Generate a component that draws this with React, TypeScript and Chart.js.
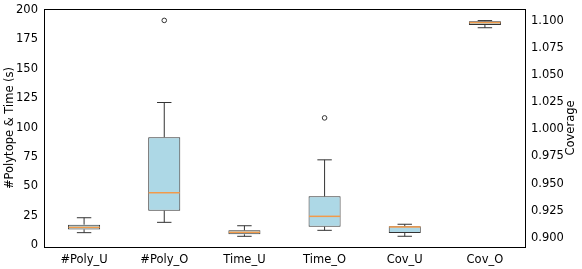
import React, { useEffect, useRef } from "react";
import { Chart, registerables } from "chart.js";

Chart.register(...registerables);

const categories = ["#Poly_U", "#Poly_O", "Time_U", "Time_O", "Cov_U", "Cov_O"];
// which axis each box belongs to: left (counts/time) or right (coverage)
const axisOf = ["y", "y", "y", "y", "y2", "y2"];
const q1 = [13.3, 29.2, 9.1, 15.6, 0.9043, 1.0963];
const q3 = [17.3, 91.8, 12.5, 41.4, 0.9105, 1.0999];
const medians = [15.0, 44.5, 10.8, 24.4, 0.9099, 1.0985];
const whiskerLow = [10.5, 19.3, 7.4, 12.5, 0.9013, 1.0938];
const whiskerHigh = [23.2, 121.3, 16.4, 72.5, 0.9124, 1.1004];
const outliers: number[][] = [[], [191.2], [], [108.2], [], []];

const leftTicks = [0, 25, 50, 75, 100, 125, 150, 175, 200];
const rightTicks = [0.9, 0.925, 0.95, 0.975, 1.0, 1.025, 1.05, 1.075, 1.1];
const leftTitle = "#Polytope & Time (s)";
const rightTitle = "Coverage";

const FONT = "'DejaVu Sans', sans-serif";
const FS = 11.5;
const EDGE = "#333333";
const MEDIAN = "#f29a4a";

const boxPlugin = {
  id: "boxExtras",
  afterDatasetsDraw(chart: any) {
    const ctx = chart.ctx;
    const x = chart.scales.x;
    ctx.save();
    categories.forEach((_, i) => {
      const ys = chart.scales[axisOf[i]];
      const cx = x.getPixelForValue(i);
      const bw = x.getPixelForValue(1) - x.getPixelForValue(0);
      const boxW = bw * 0.4;
      const capW = boxW * 0.45;
      ctx.strokeStyle = EDGE;
      ctx.lineWidth = 1;
      ctx.beginPath();
      ctx.moveTo(cx, ys.getPixelForValue(q1[i]));
      ctx.lineTo(cx, ys.getPixelForValue(whiskerLow[i]));
      ctx.moveTo(cx, ys.getPixelForValue(q3[i]));
      ctx.lineTo(cx, ys.getPixelForValue(whiskerHigh[i]));
      const yl = ys.getPixelForValue(whiskerLow[i]);
      const yh = ys.getPixelForValue(whiskerHigh[i]);
      ctx.moveTo(cx - capW / 2, yl);
      ctx.lineTo(cx + capW / 2, yl);
      ctx.moveTo(cx - capW / 2, yh);
      ctx.lineTo(cx + capW / 2, yh);
      ctx.stroke();
      ctx.strokeStyle = MEDIAN;
      ctx.lineWidth = 1.5;
      ctx.beginPath();
      const ym = ys.getPixelForValue(medians[i]);
      ctx.moveTo(cx - boxW / 2 + 0.5, ym);
      ctx.lineTo(cx + boxW / 2 - 0.5, ym);
      ctx.stroke();
      ctx.strokeStyle = EDGE;
      ctx.lineWidth = 1;
      outliers[i].forEach((v) => {
        ctx.beginPath();
        ctx.arc(cx, ys.getPixelForValue(v), 2.3, 0, Math.PI * 2);
        ctx.stroke();
      });
    });
    const a = chart.chartArea;
    ctx.strokeStyle = "#000";
    ctx.lineWidth = 1;
    ctx.strokeRect(Math.round(a.left) + 0.5, Math.round(a.top) + 0.5, Math.round(a.right - a.left), Math.round(a.bottom - a.top));
    // axis titles, both read bottom-to-top
    const midY = (a.top + a.bottom) / 2;
    ctx.fillStyle = "#000";
    ctx.font = `${FS}px ${FONT}`;
    ctx.textAlign = "center";
    ctx.textBaseline = "middle";
    [[10, leftTitle], [571, rightTitle]].forEach(([px, t]) => {
      ctx.save();
      ctx.translate(px as number, midY);
      ctx.rotate(-Math.PI / 2);
      ctx.fillText(t as string, 0, 0);
      ctx.restore();
    });
    ctx.restore();
  },
};

export default function App() {
  const ref = useRef<HTMLCanvasElement>(null);
  useEffect(() => {
    document.body.style.margin = "0";
    const leftData = categories.map((_, i) => (axisOf[i] === "y" ? [q1[i], q3[i]] : null));
    const rightData = categories.map((_, i) => (axisOf[i] === "y2" ? [q1[i], q3[i]] : null));
    const common = {
      backgroundColor: "#add8e6",
      borderColor: EDGE,
      borderWidth: 1,
      borderSkipped: false,
      grouped: false,
      categoryPercentage: 1,
      barPercentage: 0.4,
    };
    const tickFont = { family: FONT, size: FS };
    const chart = new Chart(ref.current!, {
      type: "bar",
      data: {
        labels: categories,
        datasets: [
          { ...common, data: leftData as any, yAxisID: "y" },
          { ...common, data: rightData as any, yAxisID: "y2" },
        ],
      },
      options: {
        animation: false,
        responsive: false,
        layout: { padding: { top: 9, left: 0, right: 0, bottom: 0 } },
        plugins: { legend: { display: false }, tooltip: { enabled: false } },
        scales: {
          x: {
            offset: true,
            grid: { display: false, drawTicks: true, tickLength: 4, tickColor: "#000" } as any,
            border: { color: "#000", width: 1 },
            ticks: { color: "#000", font: tickFont, padding: 2, maxRotation: 0 },
            afterFit: (s: any) => { s.height = 22; },
          },
          y: {
            position: "left",
            min: -1.7,
            max: 200.9,
            grid: { display: false, drawTicks: true, tickLength: 4, tickColor: "#000" } as any,
            border: { color: "#000", width: 1 },
            afterBuildTicks: (s: any) => { s.ticks = leftTicks.map((v) => ({ value: v })); },
            ticks: { color: "#000", font: tickFont, padding: 2 },
            afterFit: (s: any) => { s.width = 44; },
          },
          y2: {
            position: "right",
            min: 0.8914,
            max: 1.1111,
            grid: { display: false, drawTicks: true, tickLength: 4, tickColor: "#000" } as any,
            border: { color: "#000", width: 1 },
            afterBuildTicks: (s: any) => { s.ticks = rightTicks.map((v) => ({ value: v })); },
            ticks: { color: "#000", font: tickFont, padding: 2, callback: (v: any) => Number(v).toFixed(3) },
            afterFit: (s: any) => { s.width = 57; },
          },
        },
      },
      plugins: [boxPlugin],
    });
    return () => chart.destroy();
  }, []);
  return (
    <div style={{ width: 582, height: 269, background: "#fff" }}>
      <canvas ref={ref} width={582} height={269} style={{ display: "block" }} />
    </div>
  );
}
